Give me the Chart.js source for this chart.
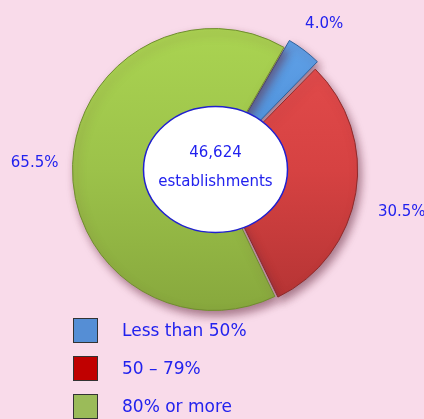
<!DOCTYPE html>
<html>
<head>
<meta charset="utf-8">
<script src="https://cdn.jsdelivr.net/npm/chart.js@4.4.1/dist/chart.umd.min.js"></script>
<style>
html, body { margin: 0; padding: 0; background: #f9dbea; }
#wrap { position: relative; width: 424px; height: 419px; overflow: hidden; }
#legend { position: absolute; left: 73px; top: 317px; font-family: "DejaVu Sans", sans-serif; font-size: 17px; color: #2222ee; }
.row { display: flex; align-items: center; height: 26px; margin-bottom: 12px; }
.box { width: 25px; height: 25px; border: 1px solid #333; box-sizing: border-box; margin-right: 24px; }
</style>
</head>
<body>
<div id="wrap">
  <canvas id="pie" width="424" height="419"></canvas>
  <div id="legend"></div>
</div>
<script>
const categories = ['Less than 50%', '50 – 79%', '80% or more'];
const shares = [4.0, 30.5, 65.5];
const totalLabel = ['46,624', 'establishments'];

// top, middle, bottom shades of each slice
const sliceColors = [
    ['#64a4ea', '#4a8ed8', '#3570b8'],
    ['#e64e4e', '#d64242', '#b03232'],
    ['#abd552', '#9cc24a', '#86a63c']
];
const legendColors = ['#558ed5', '#c00000', '#9bbb59'];
const textColor = '#2222ee';

// legend
const legend = document.getElementById('legend');
categories.forEach((c, i) => {
    const row = document.createElement('div');
    row.className = 'row';
    row.innerHTML = '<div class="box" style="background:' + legendColors[i] + '"></div><span>' + c + '</span>';
    legend.appendChild(row);
});

function sliceFill(context) {
    const chart = context.chart;
    const c = sliceColors[context.dataIndex];
    const area = chart.chartArea;
    if (!area) return c[1];
    const g = chart.ctx.createLinearGradient(0, area.top, 0, area.bottom);
    g.addColorStop(0, c[0]);
    g.addColorStop(0.5, c[1]);
    g.addColorStop(1, c[2]);
    return g;
}

const overlay = {
    id: 'overlay',
    beforeDatasetsDraw(chart) {
        const ctx = chart.ctx;
        ctx.save();
        ctx.shadowColor = 'rgba(100, 40, 60, 0.55)';
        ctx.shadowBlur = 8;
        ctx.shadowOffsetX = 3;
        ctx.shadowOffsetY = 5;
    },
    afterDatasetsDraw(chart) {
        const ctx = chart.ctx;
        ctx.restore();
        const arcs = chart.getDatasetMeta(0).data;
        ctx.save();
        ctx.fillStyle = textColor;
        ctx.font = '15px "DejaVu Sans"';
        ctx.textAlign = 'center';
        ctx.textBaseline = 'middle';
        const gaps = [42, 52, 38];
        arcs.forEach((arc, i) => {
            const p = arc.getProps(['x', 'y', 'startAngle', 'endAngle', 'outerRadius'], true);
            const mid = (p.startAngle + p.endAngle) / 2 + (i === 1 ? 0.06 : 0);
            const r = p.outerRadius + gaps[i];
            ctx.fillText(shares[i].toFixed(1) + '%', p.x + Math.cos(mid) * r, p.y + Math.sin(mid) * r);
        });
        // centre ellipse
        const cx = arcs[0].x + 2, cy = arcs[0].y;
        ctx.beginPath();
        ctx.ellipse(cx, cy, 72, 63, 0, 0, Math.PI * 2);
        ctx.fillStyle = '#ffffff';
        ctx.fill();
        ctx.lineWidth = 1.5;
        ctx.strokeStyle = '#2020d0';
        ctx.stroke();
        ctx.fillStyle = textColor;
        ctx.font = '15px "DejaVu Sans"';
        ctx.fillText(totalLabel[0], cx, cy - 16);
        ctx.fillText(totalLabel[1], cx, cy + 13);
        ctx.restore();
    }
};

new Chart(document.getElementById('pie'), {
    type: 'pie',
    data: {
        labels: categories,
        datasets: [{
            data: shares,
            backgroundColor: sliceFill,
            borderColor: ['#2c5f9a', '#8e2a2a', '#6f8c2e'],
            borderWidth: 1,
            offset: [20, 12, 0]
        }]
    },
    options: {
        responsive: false,
        animation: false,
        rotation: 30,
        layout: { padding: { left: 62, right: 59, top: 18, bottom: 98 } },
        plugins: {
            legend: { display: false },
            tooltip: { enabled: false }
        }
    },
    plugins: [overlay]
});
</script>
</body>
</html>
